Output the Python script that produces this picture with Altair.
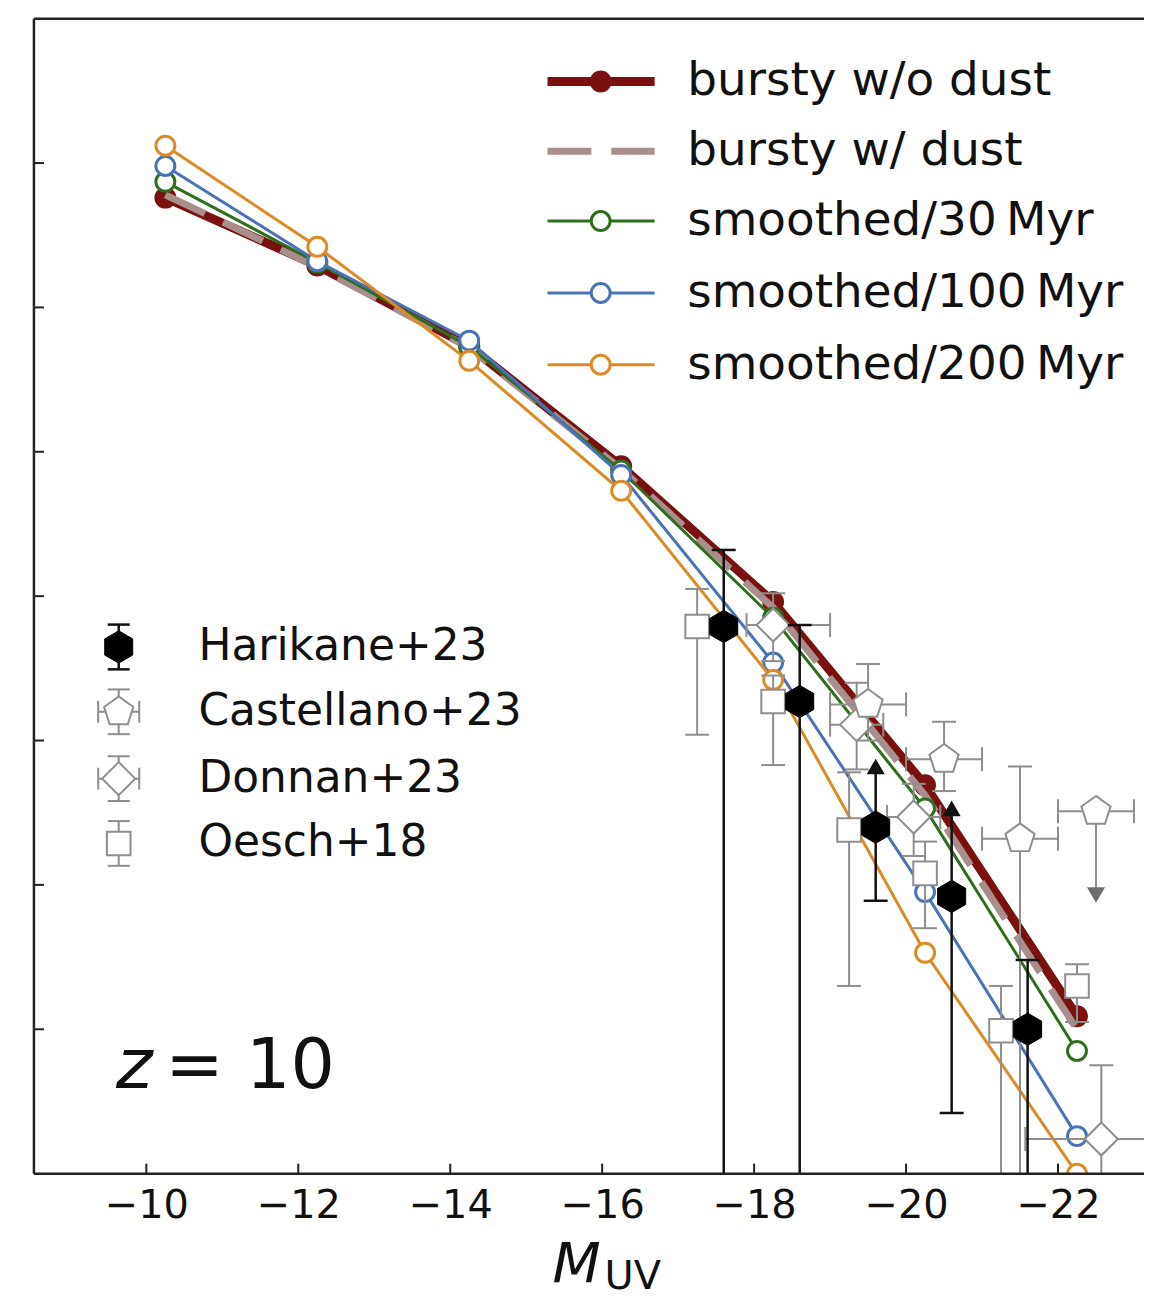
import altair as alt
import pandas as pd

# ---------------- data ----------------
M_MODEL = [-10.25, -12.25, -14.25, -16.25, -18.25, -20.25, -22.25]
PHI_BURSTY_NODUST = [-0.24, -0.71, -1.27, -2.10, -3.04, -4.31, -5.91]
PHI_BURSTY_DUST = [-0.22, -0.72, -1.28, -2.12, -3.08, -4.38, -6.00]
PHI_SMOOTH_30 = [-0.13, -0.69, -1.27, -2.13, -3.15, -4.47, -6.15]
PHI_SMOOTH_100 = [-0.02, -0.68, -1.23, -2.16, -3.46, -5.05, -6.74]
PHI_SMOOTH_200 = [0.12, -0.58, -1.37, -2.27, -3.58, -5.47, -7.00]
MODEL_NAMES = ["bursty w/o dust", "bursty w/ dust", "smoothed/30\u2009Myr",
               "smoothed/100\u2009Myr", "smoothed/200\u2009Myr"]
MODEL_COLORS = ["#7a1010", "#a98e8e", "#2f6e1e", "#4a72b6", "#de8a24"]

# Harikane+23
HAR_M = [-17.6, -18.6, -19.6, -20.6, -21.6]
HAR_PHI = [-3.21, -3.73, -4.60, -5.08, -6.00]
HAR_LO = [-8.0, -8.0, -5.11, -6.58, -8.0]
HAR_HI = [-2.68, -3.20, -4.18, -4.47, -5.52]
HAR_LOLIM = [False, False, True, True, False]

# Castellano+23
CAS_M = [-19.5, -20.5, -21.5, -22.5]
CAS_PHI = [-3.75, -4.13, -4.68, -4.49]
CAS_LO = [-4.00, -4.35, -8.0, -5.07]
CAS_HI = [-3.47, -3.87, -4.18, -4.49]
CAS_DM = [0.5, 0.5, 0.5, 0.5]
CAS_UPLIM = [False, False, False, True]

# Donnan+23
DON_M = [-18.25, -19.35, -20.10, -22.57]
DON_PHI = [-3.20, -3.89, -4.53, -6.76]
DON_LO = [-3.45, -4.20, -4.80, -8.0]
DON_HI = [-2.98, -3.60, -4.30, -6.25]
DON_DM_LO = [0.35, 0.35, 0.35, 1.0]
DON_DM_HI = [0.75, 0.35, 0.35, 1.0]

# Oesch+18
OES_M = [-17.25, -18.25, -19.25, -20.25, -21.25, -22.25]
OES_PHI = [-3.21, -3.73, -4.62, -4.92, -6.01, -5.70]
OES_LO = [-3.96, -4.17, -5.70, -5.30, -8.0, -5.95]
OES_HI = [-2.95, -3.55, -4.22, -4.70, -5.70, -5.55]

X_TICKS = [-10, -12, -14, -16, -18, -20, -22]
Y_TICKS = [0, -1, -2, -3, -4, -5, -6]

# ---------------- layout / style ----------------
W, H = 1113, 1158
FONT = "DejaVu Sans"
XS = alt.Scale(domain=[-23.132, -8.52], reverse=True, nice=False, zero=False)
YS = alt.Scale(domain=[-7, 1], nice=False, zero=False)
XAX = alt.Axis(values=X_TICKS, ticks=False, grid=False, title=None, labelFontSize=40,
               labelFont=FONT, labelColor="#111", labelPadding=12, domain=False,
               labelFlush=False)
YAX = alt.Axis(values=Y_TICKS, ticks=False, labels=False, grid=False, title=None,
               domain=False)


def X(f):
    return alt.X(f, type="quantitative", scale=XS, axis=XAX)


def Y(f):
    return alt.Y(f, type="quantitative", scale=YS, axis=YAX)


layers = []

# ---------- models ----------
model_series = [PHI_BURSTY_NODUST, PHI_BURSTY_DUST, PHI_SMOOTH_30, PHI_SMOOTH_100, PHI_SMOOTH_200]
line_widths = [9, 7, 3, 3, 3]
for i, phis in enumerate(model_series):
    df = pd.DataFrame({"M": M_MODEL, "phi": phis})
    kw = dict(color=MODEL_COLORS[i], strokeWidth=line_widths[i], clip=True)
    if i == 1:
        kw["strokeDash"] = [44, 20]
    layers.append(alt.Chart(df).mark_line(**kw).encode(x=X("M"), y=Y("phi")))
    if i == 0:
        layers.append(alt.Chart(df).mark_point(shape="circle", filled=True, size=480,
                                               color=MODEL_COLORS[0], opacity=1, clip=True)
                      .encode(x=X("M"), y=Y("phi")))
    elif i >= 2:
        layers.append(alt.Chart(df).mark_point(shape="circle", filled=True, size=360,
                                               fill="white", stroke=MODEL_COLORS[i],
                                               strokeWidth=3, opacity=1, clip=True)
                      .encode(x=X("M"), y=Y("phi")))

# ---------- observations ----------
HEX = "M0,-1L0.866,-0.5L0.866,0.5L0,1L-0.866,0.5L-0.866,-0.5Z"
PENT = "M0,-1L0.951,-0.309L0.588,0.809L-0.588,0.809L-0.951,-0.309Z"


def obs(M, phi, lo, hi, dml, dmh, lolim, uplim, ecol, ew, shape, size, fill, stroke, sw):
    out = []
    df = pd.DataFrame({"M": M, "phi": phi, "lo": lo, "hi": hi})
    df["Ml"] = [m + d for m, d in zip(M, dml)]
    df["Mh"] = [m - d for m, d in zip(M, dmh)]
    df["lolim"] = lolim
    df["uplim"] = uplim
    out.append(alt.Chart(df).mark_rule(color=ecol, strokeWidth=ew, clip=True)
               .encode(x=X("M"), y=Y("lo"), y2="hi"))
    dx = df[df["Ml"] != df["Mh"]]
    if len(dx):
        out.append(alt.Chart(dx).mark_rule(color=ecol, strokeWidth=ew, clip=True)
                   .encode(x=X("Ml"), x2="Mh", y=Y("phi")))
        for c in ["Ml", "Mh"]:
            out.append(alt.Chart(dx).mark_tick(orient="vertical", color=ecol, size=24,
                                               thickness=ew, clip=True, opacity=1)
                       .encode(x=X(c), y=Y("phi")))
    top = df[(~df["lolim"]) & (df["hi"] != df["phi"])]
    if len(top):
        out.append(alt.Chart(top).mark_tick(orient="horizontal", color=ecol, size=24,
                                            thickness=ew, clip=True, opacity=1)
                   .encode(x=X("M"), y=Y("hi")))
    bot = df[(~df["uplim"]) & (df["lo"] > -7)]
    if len(bot):
        out.append(alt.Chart(bot).mark_tick(orient="horizontal", color=ecol, size=24,
                                            thickness=ew, clip=True, opacity=1)
                   .encode(x=X("M"), y=Y("lo")))
    la = df[df["lolim"]]
    if len(la):
        out.append(alt.Chart(la).mark_point(shape="triangle-up", filled=True, size=330,
                                            color=ecol, opacity=1, clip=True)
                   .encode(x=X("M"), y=Y("hi")))
    ua = df[df["uplim"]]
    if len(ua):
        out.append(alt.Chart(ua).mark_point(shape="triangle-down", filled=True, size=330,
                                            color="#6e6e6e", opacity=1, clip=True)
                   .encode(x=X("M"), y=Y("lo")))
    out.append(alt.Chart(df).mark_point(shape=shape, filled=True, size=size, fill=fill,
                                        stroke=stroke, strokeWidth=sw, opacity=1, clip=True)
               .encode(x=X("M"), y=Y("phi")))
    return out


GRAY = "#8e8e8e"
layers += obs(OES_M, OES_PHI, OES_LO, OES_HI, [0] * 6, [0] * 6, [False] * 6, [False] * 6,
              GRAY, 2, "square", 560, "white", GRAY, 2)
layers += obs(DON_M, DON_PHI, DON_LO, DON_HI, DON_DM_LO, DON_DM_HI, [False] * 4, [False] * 4,
              GRAY, 2, "diamond", 1100, "white", GRAY, 2)
layers += obs(CAS_M, CAS_PHI, CAS_LO, CAS_HI, CAS_DM, CAS_DM, [False] * 4, CAS_UPLIM,
              GRAY, 2, PENT, 950, "white", GRAY, 2)
layers += obs(HAR_M, HAR_PHI, HAR_LO, HAR_HI, [0] * 5, [0] * 5, HAR_LOLIM, [False] * 5,
              "#111", 2.5, HEX, 1050, "#000", "#000", 1)

# ---------- inward ticks and spines (left, top, bottom; the panel is open on the right) ----------
layers.append(alt.Chart(pd.DataFrame({"v": X_TICKS})).mark_rule(color="#222", strokeWidth=2)
              .encode(x=X("v"), y=alt.value(H), y2=alt.value(H - 10)))
layers.append(alt.Chart(pd.DataFrame({"v": Y_TICKS})).mark_rule(color="#222", strokeWidth=2)
              .encode(y=Y("v"), x=alt.value(0), x2=alt.value(10)))
layers.append(alt.Chart(pd.DataFrame({"v": [0]})).mark_rule(color="#222", strokeWidth=2.5)
              .encode(y=alt.value(0), x=alt.value(0), x2=alt.value(W)))
layers.append(alt.Chart(pd.DataFrame({"v": [0]})).mark_rule(color="#222", strokeWidth=2.5)
              .encode(y=alt.value(H), x=alt.value(0), x2=alt.value(W)))
layers.append(alt.Chart(pd.DataFrame({"v": [0]})).mark_rule(color="#222", strokeWidth=2.5)
              .encode(x=alt.value(0), y=alt.value(0), y2=alt.value(H)))

# ---------- legend: models (upper right), positions in data units ----------
LEG_X0, LEG_X1, LEG_XM, LEG_XT = -15.28, -16.69, -15.98, -17.12
LEG_Y = [0.565, 0.081, -0.402, -0.900, -1.397]
for i, name in enumerate(MODEL_NAMES):
    d = pd.DataFrame({"x0": [LEG_X0], "x1": [LEG_X1], "xm": [LEG_XM], "xt": [LEG_XT],
                      "y": [LEG_Y[i]], "t": [name]})
    kw = dict(color=MODEL_COLORS[i], strokeWidth=line_widths[i])
    if i == 1:
        kw["strokeDash"] = [44, 20]
    layers.append(alt.Chart(d).mark_rule(**kw).encode(x=X("x0"), x2="x1", y=Y("y")))
    if i == 0:
        layers.append(alt.Chart(d).mark_point(shape="circle", filled=True, size=480,
                                              color=MODEL_COLORS[0], opacity=1)
                      .encode(x=X("xm"), y=Y("y")))
    elif i >= 2:
        layers.append(alt.Chart(d).mark_point(shape="circle", filled=True, size=360,
                                              fill="white", stroke=MODEL_COLORS[i],
                                              strokeWidth=3, opacity=1)
                      .encode(x=X("xm"), y=Y("y")))
    layers.append(alt.Chart(d).mark_text(align="left", baseline="middle", fontSize=47,
                                         font=FONT, color="#111")
                  .encode(x=X("xt"), y=Y("y"), text="t:N"))

# ---------- legend: observations (left) ----------
OBS_NAMES = ["Harikane+23", "Castellano+23", "Donnan+23", "Oesch+18"]
OL_X, OL_XT = -9.636, -10.686
OL_Y = [-3.352, -3.801, -4.264, -4.713]
OL_DY, OL_DX = 0.155, 0.27
leg_specs = [  # shape, size, fill, stroke, ecol, has_x
    (HEX, 1050, "#000", "#000", "#111", False),
    (PENT, 950, "white", GRAY, GRAY, True),
    ("diamond", 1100, "white", GRAY, GRAY, True),
    ("square", 560, "white", GRAY, GRAY, False),
]
for i, name in enumerate(OBS_NAMES):
    shp, sz, fl, st, ec, hx = leg_specs[i]
    y = OL_Y[i]
    d = pd.DataFrame({"x": [OL_X], "xt": [OL_XT], "y": [y], "lo": [y - OL_DY], "hi": [y + OL_DY],
                      "xl": [OL_X + OL_DX], "xh": [OL_X - OL_DX], "t": [name]})
    ew = 2.5 if i == 0 else 2
    layers.append(alt.Chart(d).mark_rule(color=ec, strokeWidth=ew)
                  .encode(x=X("x"), y=Y("lo"), y2="hi"))
    for c in ["lo", "hi"]:
        layers.append(alt.Chart(d).mark_tick(orient="horizontal", color=ec, size=22,
                                             thickness=ew, opacity=1)
                      .encode(x=X("x"), y=Y(c)))
    if hx:
        layers.append(alt.Chart(d).mark_rule(color=ec, strokeWidth=ew)
                      .encode(x=X("xl"), x2="xh", y=Y("y")))
        for c in ["xl", "xh"]:
            layers.append(alt.Chart(d).mark_tick(orient="vertical", color=ec, size=22,
                                                 thickness=ew, opacity=1)
                          .encode(x=X(c), y=Y("y")))
    layers.append(alt.Chart(d).mark_point(shape=shp, filled=True, size=sz, fill=fl, stroke=st,
                                          strokeWidth=1 if i == 0 else 2, opacity=1)
                  .encode(x=X("x"), y=Y("y")))
    layers.append(alt.Chart(d).mark_text(align="left", baseline="middle", fontSize=44,
                                         font=FONT, color="#111")
                  .encode(x=X("xt"), y=Y("y"), text="t:N"))

# ---------- annotations: redshift label and axis title ----------
ann = pd.DataFrame({"x": [-9.60], "y": [-6.41], "t": ["z"]})
layers.append(alt.Chart(ann).mark_text(align="left", baseline="alphabetic", fontSize=70,
                                       font=FONT, fontStyle="italic", color="#111")
              .encode(x=X("x"), y=Y("y"), text="t:N"))
ann2 = pd.DataFrame({"x": [-10.25], "y": [-6.41], "t": ["= 10"]})
layers.append(alt.Chart(ann2).mark_text(align="left", baseline="alphabetic", fontSize=70,
                                        font=FONT, color="#111")
              .encode(x=X("x"), y=Y("y"), text="t:N"))

tt1 = pd.DataFrame({"x": [-15.98], "y": [-7.75], "t": ["M"]})
layers.append(alt.Chart(tt1).mark_text(align="right", baseline="alphabetic", fontSize=56,
                                       font=FONT, fontStyle="italic", color="#111")
              .encode(x=X("x"), y=Y("y"), text="t:N"))
tt2 = pd.DataFrame({"x": [-16.03], "y": [-7.80], "t": ["UV"]})
layers.append(alt.Chart(tt2).mark_text(align="left", baseline="alphabetic", fontSize=40,
                                       font=FONT, color="#111")
              .encode(x=X("x"), y=Y("y"), text="t:N"))

chart = alt.layer(*layers).properties(
    width=W, height=H,
    padding={"left": 24, "top": 7, "right": 0, "bottom": 0},
    background="white",
).configure_view(stroke="transparent", strokeWidth=0)

chart.save("out.html", embed_options={"renderer": "svg", "actions": False})
